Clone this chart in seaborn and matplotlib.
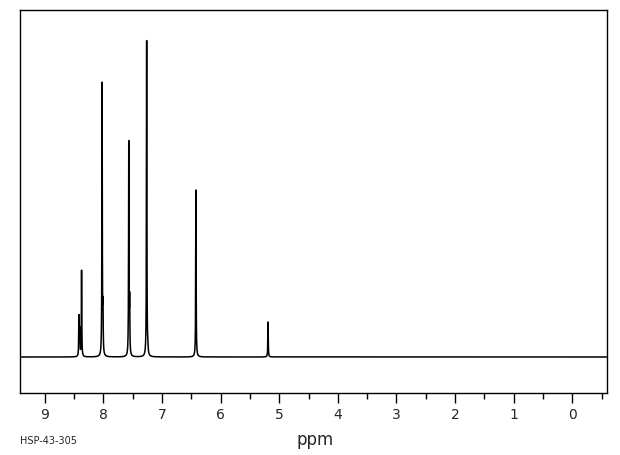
import numpy as np
import pandas as pd
import matplotlib
matplotlib.use("Agg")
import matplotlib.pyplot as plt
import seaborn as sns
from matplotlib.ticker import MultipleLocator

# Peak list (ppm, relative intensity)
peak_ppm = [8.415, 8.400, 8.370, 8.020, 8.005, 7.565, 7.550, 7.260, 7.240, 6.420, 5.190]
peak_height = [40, 26, 86, 272, 42, 213, 51, 316, 10, 167, 35]
tick_values = [9, 8, 7, 6, 5, 4, 3, 2, 1, 0]
tick_labels = ["9", "8", "7", "6", "5", "4", "3", "2", "1", "0"]

# Build the line trace (Lorentzian line shape) from the peak list
gamma = 0.004
ppm = np.round(np.arange(-0.6, 9.42, 0.0005), 4)
intensity = np.zeros_like(ppm)
for p, h in zip(peak_ppm, peak_height):
    intensity += h * gamma**2 / ((ppm - p) ** 2 + gamma**2)
df = pd.DataFrame({"ppm": ppm, "intensity": intensity})

sns.set_style("white")
fig = plt.figure(figsize=(6.2, 4.55), dpi=100)
ax = fig.add_axes([20 / 620, 62 / 455, 587 / 620, 383 / 455])
sns.lineplot(data=df, x="ppm", y="intensity", ax=ax, color="black",
             linewidth=1.1, estimator=None, sort=False)

ax.set_xlim(9.42, -0.59)
ax.set_ylim(-36, 347)
ax.set_xticks(tick_values)
ax.set_xticklabels(tick_labels)
ax.xaxis.set_minor_locator(MultipleLocator(0.5))
ax.tick_params(axis="x", which="major", direction="out", length=7.5, width=1,
               color="black", labelsize=10, pad=3, bottom=True)
ax.tick_params(axis="x", which="minor", direction="out", length=4.3, width=1,
               color="black", bottom=True)
ax.set_yticks([])
ax.set_xlabel("")
ax.set_ylabel("")
for s in ax.spines.values():
    s.set_visible(True)
    s.set_color("black")
    s.set_linewidth(1)

fig.text(315 / 620, 1 - 440 / 455, "ppm", ha="center", va="center", fontsize=12)
fig.text(20 / 620, 1 - 441 / 455, "HSP-43-305", ha="left", va="center", fontsize=7)

fig.savefig("out.png", dpi=100, facecolor="white")
